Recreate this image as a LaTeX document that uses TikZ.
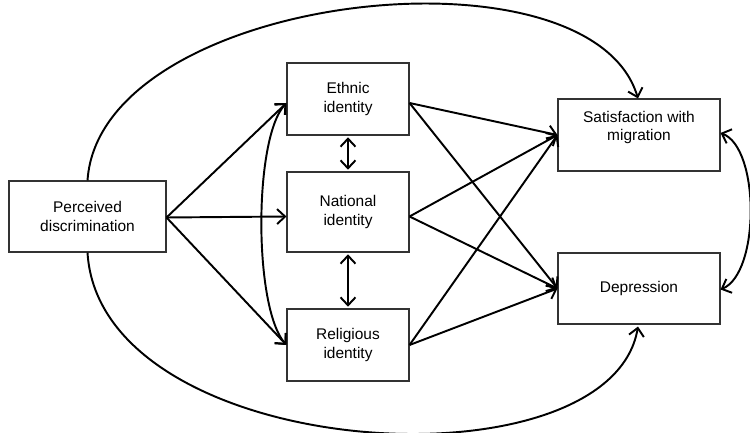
\documentclass[tikz,border=0pt]{standalone}
\usepackage{fontspec}
\setmainfont{Liberation Sans}
\usetikzlibrary{arrows.meta}

\begin{document}
\begin{tikzpicture}[
  box/.style={draw=black!80, line width=0.6pt, align=center, inner sep=0pt, font=\fontsize{8.8}{10.5}\selectfont},
  link/.style={-{Straight Barb[length=1.6mm,width=3mm]}, line width=1.1pt},
  both/.style={{Straight Barb[length=1.6mm,width=3mm]}-{Straight Barb[length=1.6mm,width=3mm]}, line width=1.1pt}]

\useasboundingbox (0,0) rectangle (15,8.66);

\node (pd) at (1.75,4.33)[box, minimum width=3.14cm, minimum height=1.42cm]{Perceived\\discrimination};

\node (eth) at (6.96,6.68)[box, minimum width=2.44cm, minimum height=1.44cm]{Ethnic\\identity};
\node (nat) at (6.96,4.42)[box, minimum width=2.44cm, minimum height=1.6cm]{National\\identity};
\node (rel) at (6.96,1.76)[box, minimum width=2.44cm, minimum height=1.44cm]{Religious\\identity};

\node (sat) at (12.78,5.96)[box, minimum width=3.24cm, minimum height=1.44cm]{Satisfaction with\\migration\\\mbox{}};
\node (dep) at (12.78,2.89)[box, minimum width=3.24cm, minimum height=1.42cm]{Depression};

\coordinate (pdout) at ([yshift=-0.02cm]pd.east);
\coordinate (ein) at ([yshift=-0.08cm]eth.west);
\coordinate (nin) at ([yshift=-0.09cm]nat.west);
\coordinate (rin) at (rel.west);
\coordinate (eout) at ([yshift=-0.08cm]eth.east);
\coordinate (nout) at ([yshift=-0.09cm]nat.east);
\coordinate (rout) at (rel.east);

\draw[link] (pdout) -- (ein);
\draw[link] (pdout) -- (nin);
\draw[link] (pdout) -- (rin);

\draw[both] (ein) .. controls (5.07,5.9) and (5.07,2.5) .. (rin);
\draw[both, shorten <=1pt, shorten >=1pt] (eth) -- (nat);
\draw[both, shorten <=1pt, shorten >=1pt] (nat) -- (rel);

\draw[link] (eout) -- (sat.west);
\draw[link] (eout) -- (dep.west);
\draw[link] (nout) -- (sat.west);
\draw[link] (nout) -- (dep.west);
\draw[link] (rout) -- (sat.west);
\draw[link] (rout) -- (dep.west);

\draw[link] (pd.north) .. controls (2.0,8.8) and (11.8,9.9) .. ([xshift=-0.02cm]sat.north);
\draw[link] (pd.south) .. controls (2.0,-0.6) and (12.2,-1.2) .. ([xshift=-0.02cm,yshift=-0.04cm]dep.south);

\draw[both] ([yshift=0.04cm]sat.east) .. controls (15.2,5.7) and (15.2,3.2) .. ([yshift=-0.02cm]dep.east);

\end{tikzpicture}
\end{document}
